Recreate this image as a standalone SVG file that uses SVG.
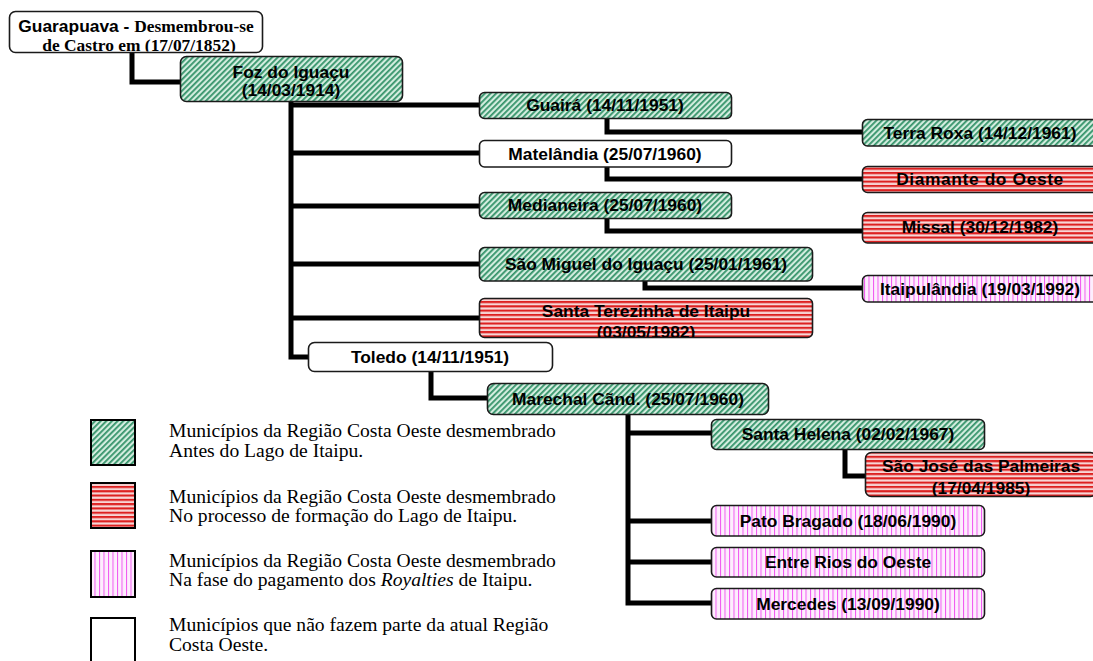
<svg xmlns="http://www.w3.org/2000/svg" width="1093" height="661" viewBox="0 0 1093 661">
<style>
.box{stroke:#1a1a1a;stroke-width:1.6}
.w{fill:#fff}
.g{fill:url(#pg)}
.r{fill:url(#pr)}
.p{fill:url(#pp)}
.t{font-family:"Liberation Sans",Arial,sans-serif;font-weight:bold;font-size:17.4px;fill:#000;text-anchor:middle}
.tb{font-family:"Liberation Serif","Times New Roman",serif;font-weight:bold}
.lg{font-family:"Liberation Serif","Times New Roman",serif;font-size:19.6px;fill:#000}
.lb{stroke:#000;stroke-width:2}
.c{fill:none;stroke:#000;stroke-width:5}
</style>
<defs>
<pattern id="pg" width="4" height="4" patternUnits="userSpaceOnUse" patternTransform="rotate(45)">
<rect width="4" height="4" fill="#d3eddf"/>
<rect width="1.8" height="4" fill="#35936a"/>
</pattern>
<pattern id="pr" width="4" height="4.3" patternUnits="userSpaceOnUse">
<rect width="4" height="4.3" fill="#f7d6d6"/>
<rect width="4" height="2.1" fill="#dd2020"/>
</pattern>
<pattern id="pp" width="4.5" height="4" patternUnits="userSpaceOnUse">
<rect width="4.5" height="4" fill="#fdeefd"/>
<rect width="1" height="4" fill="#f055f0"/>
</pattern>
<clipPath id="cGua"><rect x="10" y="12" width="252" height="39.5"/></clipPath>
<clipPath id="cSta"><rect x="480" y="299" width="333" height="38"/></clipPath>
<clipPath id="cSjp"><rect x="866" y="453" width="230" height="43"/></clipPath>
</defs>

<g id="connectors">
<path class="c" d="M132,52 V82 H180"/>
<path class="c" d="M291,101 V357 H308"/>
<path class="c" d="M291,105 H479 M291,153 H479 M291,206 H479 M291,264 H479 M291,318 H479"/>
<path class="c" d="M607,118 V132 H862"/>
<path class="c" d="M607,167 V179 H862"/>
<path class="c" d="M607,218 V231 H862"/>
<path class="c" d="M645,281 V288 H862"/>
<path class="c" d="M431,372 V398 H487"/>
<path class="c" d="M628,415 V603 H712 M628,433 H712 M628,521 H712 M628,562 H712"/>
<path class="c" d="M845,450 V476 H865"/>
</g>

<g id="guarapuava">
<rect class="box w" x="9.5" y="11.5" width="253" height="41" rx="6"/>
<g clip-path="url(#cGua)">
<text class="t" x="136" y="32">Guarapuava - <tspan class="tb">Desmembrou-se</tspan></text>
<text class="t tb" x="139" y="51">de Castro em (17/07/1852)</text>
</g>
</g>

<g id="foz">
<rect class="box g" x="180.5" y="56.5" width="222" height="45" rx="6"/>
<text class="t" x="291" y="78">Foz do Iguaçu</text>
<text class="t" x="291" y="96">(14/03/1914)</text>
</g>

<g id="guaira">
<rect class="box g" x="479.5" y="92.5" width="252" height="26" rx="5"/>
<text class="t" x="605" y="111">Guairá (14/11/1951)</text>
</g>

<g id="matelandia">
<rect class="box w" x="479.5" y="140.5" width="252" height="26.5" rx="5"/>
<text class="t" x="605" y="160">Matelândia (25/07/1960)</text>
</g>

<g id="medianeira">
<rect class="box g" x="479.5" y="192.5" width="252" height="26" rx="5"/>
<text class="t" x="605" y="211">Medianeira (25/07/1960)</text>
</g>

<g id="saomiguel">
<rect class="box g" x="479.5" y="247.5" width="333" height="33.5" rx="5"/>
<text class="t" x="646" y="270">São Miguel do Iguaçu (25/01/1961)</text>
</g>

<g id="santaterezinha">
<rect class="box r" x="479.5" y="298.5" width="333" height="39" rx="5"/>
<g clip-path="url(#cSta)">
<text class="t" x="646" y="317">Santa Terezinha de Itaipu</text>
<text class="t" x="646" y="338">(03/05/1982)</text>
</g>
</g>

<g id="toledo">
<rect class="box w" x="308.5" y="342.5" width="244" height="29" rx="6"/>
<text class="t" x="430" y="363">Toledo (14/11/1951)</text>
</g>

<g id="terraroxa">
<rect class="box g" x="862.5" y="119.5" width="236" height="26.5" rx="5"/>
<text class="t" x="980" y="139">Terra Roxa (14/12/1961)</text>
</g>

<g id="diamante">
<rect class="box r" x="862.5" y="166.5" width="236" height="26" rx="5"/>
<text class="t" x="980" y="185" letter-spacing="0.6">Diamante do Oeste</text>
</g>

<g id="missal">
<rect class="box r" x="862.5" y="212.5" width="236" height="30.5" rx="5"/>
<text class="t" x="980" y="233">Missal (30/12/1982)</text>
</g>

<g id="itaipulandia">
<rect class="box p" x="862.5" y="275.5" width="236" height="26.5" rx="5"/>
<text class="t" x="980" y="295">Itaipulândia (19/03/1992)</text>
</g>

<g id="marechal">
<rect class="box g" x="487.5" y="383.5" width="281" height="31" rx="6"/>
<text class="t" x="628" y="405">Marechal Cãnd. (25/07/1960)</text>
</g>

<g id="santahelena">
<rect class="box g" x="711.5" y="419.5" width="273" height="30" rx="5"/>
<text class="t" x="848" y="440">Santa Helena (02/02/1967)</text>
</g>

<g id="saojose">
<rect class="box r" x="865.5" y="452.5" width="231" height="44" rx="6"/>
<g clip-path="url(#cSjp)">
<text class="t" x="981" y="472">São José das Palmeiras</text>
<text class="t" x="981" y="494">(17/04/1985)</text>
</g>
</g>

<g id="patobragado">
<rect class="box p" x="711.5" y="505.5" width="273" height="30.5" rx="5"/>
<text class="t" x="848" y="527">Pato Bragado (18/06/1990)</text>
</g>

<g id="entrerios">
<rect class="box p" x="711.5" y="547.5" width="273" height="29.5" rx="5"/>
<text class="t" x="848" y="568">Entre Rios do Oeste</text>
</g>

<g id="mercedes">
<rect class="box p" x="711.5" y="588.5" width="273" height="30.5" rx="5"/>
<text class="t" x="848" y="610">Mercedes (13/09/1990)</text>
</g>

<g id="legend">
<rect class="lb g" x="91" y="420" width="44" height="45"/>
<text class="lg" x="169" y="437">Municípios da Região Costa Oeste desmembrado</text>
<text class="lg" x="169" y="457">Antes do Lago de Itaipu.</text>
<rect class="lb r" x="91" y="483" width="44" height="45"/>
<text class="lg" x="169" y="503">Municípios da Região Costa Oeste desmembrado</text>
<text class="lg" x="169" y="522">No processo de formação do Lago de Itaipu.</text>
<rect class="lb p" x="91" y="551" width="44" height="46"/>
<text class="lg" x="169" y="567">Municípios da Região Costa Oeste desmembrado</text>
<text class="lg" x="169" y="586">Na fase do pagamento dos <tspan font-style="italic">Royalties</tspan> de Itaipu.</text>
<rect class="lb w" x="91" y="618" width="44" height="50"/>
<text class="lg" x="169" y="631">Municípios que não fazem parte da atual Região</text>
<text class="lg" x="169" y="651">Costa Oeste.</text>
</g>
</svg>
